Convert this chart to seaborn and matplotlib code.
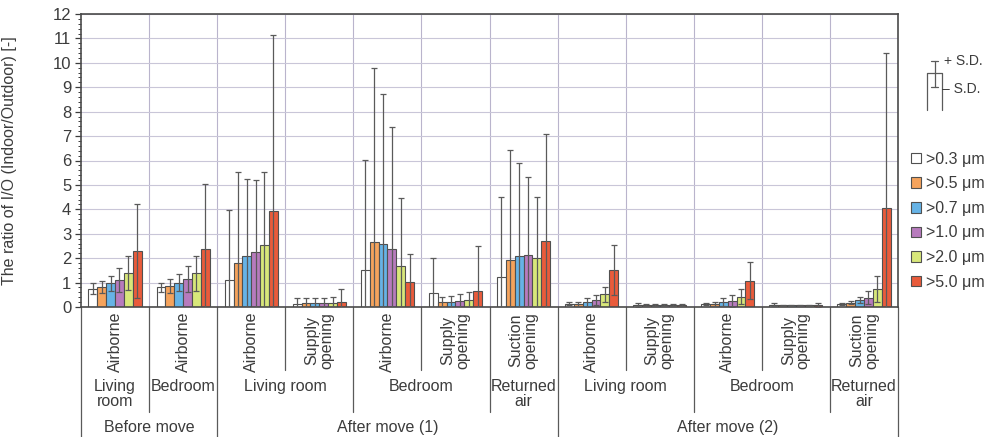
import numpy as np
import pandas as pd
import matplotlib
matplotlib.use("Agg")
import matplotlib.pyplot as plt
import matplotlib.transforms as mtransforms
import seaborn as sns

# ---- data -------------------------------------------------------------
sizes = [">0.3 μm", ">0.5 μm", ">0.7 μm", ">1.0 μm", ">2.0 μm", ">5.0 μm"]

positions = ["Airborne", "Airborne",
             "Airborne", "Supply\nopening", "Airborne", "Supply\nopening", "Suction\nopening",
             "Airborne", "Supply\nopening", "Airborne", "Supply\nopening", "Suction\nopening"]

room_labels = ["Living\nroom", "Bedroom", "Living room", "Bedroom", "Returned\nair",
               "Living room", "Bedroom", "Returned\nair"]
room_first = [0, 1, 2, 4, 6, 7, 9, 11]
room_last = [0, 1, 3, 5, 6, 8, 10, 11]

period_labels = ["Before move", "After move (1)", "After move (2)"]
period_first = [0, 2, 7]
period_last = [1, 6, 11]

mean_03 = [0.75, 0.80, 1.09, 0.14, 1.53, 0.56, 1.23, 0.14, 0.10, 0.12, 0.10, 0.13]
mean_05 = [0.82, 0.85, 1.80, 0.15, 2.65, 0.19, 1.94, 0.14, 0.08, 0.13, 0.07, 0.18]
mean_07 = [0.97, 0.99, 2.07, 0.16, 2.60, 0.21, 2.09, 0.20, 0.08, 0.20, 0.07, 0.29]
mean_10 = [1.12, 1.14, 2.26, 0.16, 2.38, 0.24, 2.13, 0.30, 0.08, 0.26, 0.07, 0.38]
mean_20 = [1.39, 1.38, 2.52, 0.17, 1.69, 0.29, 2.02, 0.52, 0.08, 0.42, 0.07, 0.75]
mean_50 = [2.28, 2.37, 3.95, 0.22, 1.04, 0.66, 2.69, 1.50, 0.09, 1.08, 0.08, 4.05]

sd_03 = [0.23, 0.20, 2.88, 0.22, 4.48, 1.46, 3.28, 0.06, 0.08, 0.05, 0.06, 0.04]
sd_05 = [0.26, 0.29, 3.72, 0.22, 7.12, 0.23, 4.51, 0.08, 0.03, 0.07, 0.02, 0.05]
sd_07 = [0.32, 0.35, 3.18, 0.22, 6.13, 0.25, 3.81, 0.18, 0.03, 0.17, 0.02, 0.13]
sd_10 = [0.49, 0.52, 2.96, 0.22, 5.01, 0.28, 3.21, 0.21, 0.03, 0.25, 0.02, 0.26]
sd_20 = [0.71, 0.71, 3.02, 0.22, 2.76, 0.34, 2.49, 0.31, 0.03, 0.31, 0.02, 0.53]
sd_50 = [1.92, 2.68, 7.20, 0.53, 1.13, 1.84, 4.40, 1.02, 0.04, 0.75, 0.10, 6.35]

means = [mean_03, mean_05, mean_07, mean_10, mean_20, mean_50]
sds = [sd_03, sd_05, sd_07, sd_10, sd_20, sd_50]

colors = ["#ffffff", "#f5a35c", "#66b3e6", "#b77bbd", "#d8e77a", "#e95b3b"]

# ---- long table -------------------------------------------------------
rows = []
for s, m_list, sd_list in zip(sizes, means, sds):
    for i, (m, sd) in enumerate(zip(m_list, sd_list)):
        rows.append({"case": i, "size": s, "ratio": m, "sd": sd})
df = pd.DataFrame(rows)

# ---- style ------------------------------------------------------------
sns.set_theme(style="white")
plt.rcParams["font.family"] = ["Liberation Sans", "DejaVu Sans"]
text_color = "#3c3c3c"
plt.rcParams["text.color"] = text_color
plt.rcParams["axes.labelcolor"] = text_color
plt.rcParams["xtick.color"] = text_color
plt.rcParams["ytick.color"] = text_color

fig = plt.figure(figsize=(9.86, 4.37), dpi=100)
ax = fig.add_axes([81 / 986, 1 - 307 / 437, 817 / 986, 293 / 437])

sns.barplot(data=df, x="case", y="ratio", hue="size", hue_order=sizes,
            palette=colors, width=0.78, gap=0.0, errorbar=None,
            edgecolor="#505050", linewidth=0.8, saturation=1, ax=ax, zorder=2)

# +/- standard deviation whiskers
for container, sd_list in zip(ax.containers, sds):
    xs = [p.get_x() + p.get_width() / 2 for p in container]
    ys = [p.get_height() for p in container]
    ax.errorbar(xs, ys, yerr=sd_list, fmt="none", ecolor="#5a5a5a",
                elinewidth=0.9, capsize=2.5, capthick=0.9, zorder=3)

n = len(positions)
ax.set_xlim(-0.5, n - 0.5)
ax.set_ylim(0, 12)
ax.set_yticks(np.arange(0, 13, 1))
ax.set_yticks(np.arange(0, 12.01, 0.2), minor=True)
ax.tick_params(axis="y", which="major", direction="out", length=4, width=0.9,
               labelsize=12, pad=3, left=True)
ax.tick_params(axis="y", which="minor", direction="out", length=2, width=0.7, left=True)
ax.set_xticks(range(n))
ax.set_xticklabels([])
ax.tick_params(axis="x", which="both", length=0)
ax.set_xticks(np.arange(0.5, n - 1, 1), minor=True)

ax.set_axisbelow(True)
ax.yaxis.grid(True, which="major", color="#c9c6d8", lw=0.8)
ax.xaxis.grid(True, which="minor", color="#b9b4cc", lw=0.8)
for sp in ax.spines.values():
    sp.set_visible(True)
    sp.set_color("#4a4a4a")
    sp.set_linewidth(1.2)

ax.set_xlabel("")
ax.set_ylabel("The ratio of I/O (Indoor/Outdoor) [-]", fontsize=11.5)
ax.yaxis.set_label_coords(-0.078, 0.5)

# ---- hierarchical category labels ------------------------------------
trans = mtransforms.blended_transform_factory(ax.transData, ax.transAxes)
depth1, depth2, depth3 = -0.215, -0.36, -0.45

for i, lab in enumerate(positions):
    ax.text(i, -0.017, lab, transform=trans, rotation=90, ha="center", va="top",
            multialignment="center", fontsize=11.5, linespacing=1.0)

for lab, a, b in zip(room_labels, room_first, room_last):
    ax.text((a + b) / 2, -0.245, lab, transform=trans, ha="center", va="top",
            multialignment="center", fontsize=11.5, linespacing=1.05)

for lab, a, b in zip(period_labels, period_first, period_last):
    ax.text((a + b) / 2, -0.412, lab, transform=trans, ha="center", va="center",
            fontsize=11.5)

period_edges = set([a - 0.5 for a in period_first] + [b + 0.5 for b in period_last])
room_edges = set([a - 0.5 for a in room_first] + [b + 0.5 for b in room_last])
for k in range(-1, n):
    xb = k + 0.5
    if xb in period_edges:
        d = depth3
    elif xb in room_edges:
        d = depth2
    else:
        d = depth1
    ax.plot([xb, xb], [0, d], transform=trans, clip_on=False,
            color="#5a5a5a", lw=0.9)

# ---- legend -----------------------------------------------------------
sns.move_legend(ax, "upper left", bbox_to_anchor=(1.016, 0.53), frameon=False,
                title=None, fontsize=11.5, handlelength=0.65, handleheight=0.65,
                handletextpad=0.3, labelspacing=0.6, borderpad=0, borderaxespad=0)

# ---- S.D. key ---------------------------------------------------------
gax = fig.add_axes([0, 0, 1, 1], facecolor="none")
gax.set_axis_off()
gax.set_xlim(0, 986)
gax.set_ylim(437, 0)
gax.plot([927, 927, 942, 942], [110, 73, 73, 110], color="#5a5a5a", lw=0.9)
gax.plot([934.5, 934.5], [61, 87], color="#5a5a5a", lw=0.9)
gax.plot([931, 938], [61, 61], color="#5a5a5a", lw=0.9)
gax.plot([931, 938], [87, 87], color="#5a5a5a", lw=0.9)
gax.text(944, 61, "+ S.D.", ha="left", va="center", fontsize=10)
gax.text(942, 89, "– S.D.", ha="left", va="center", fontsize=10)

fig.savefig("out.png", dpi=100)
